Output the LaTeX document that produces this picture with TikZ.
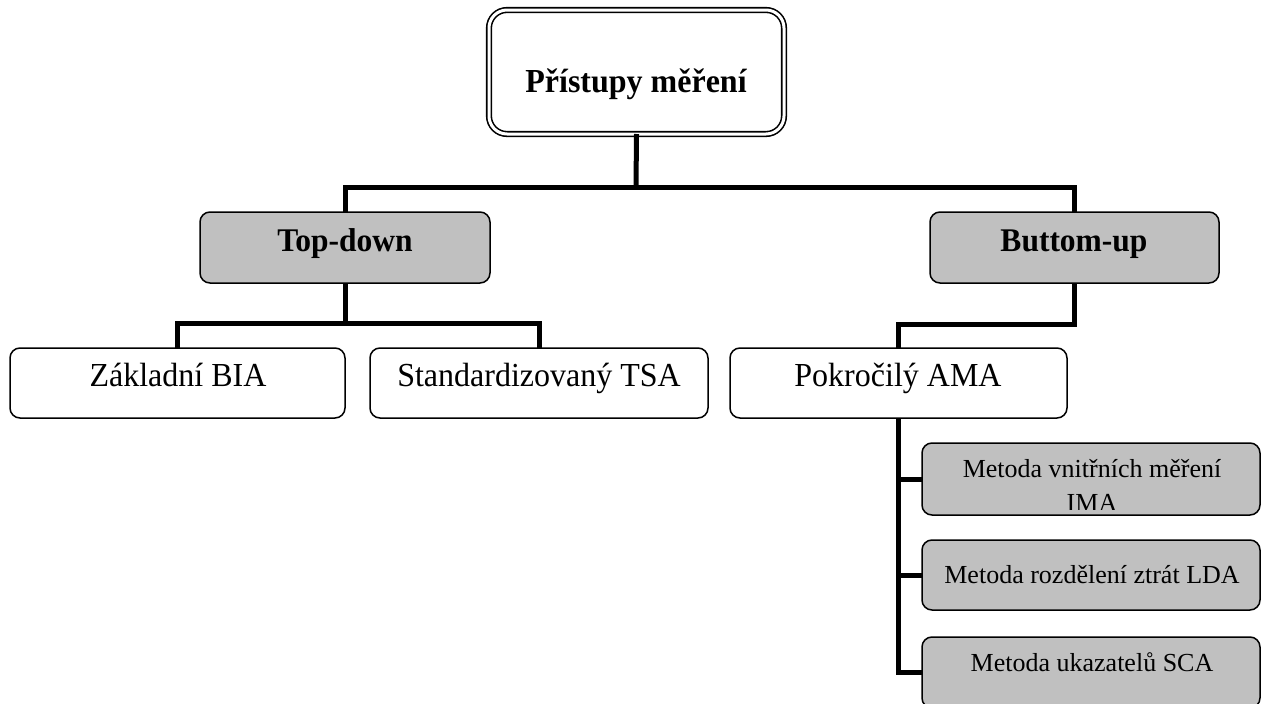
\documentclass[tikz,border=0pt]{standalone}
\usepackage{fontspec}
\setmainfont{Liberation Serif}
\definecolor{boxgray}{HTML}{C0C0C0}
\newcommand{\talltext}[1]{\scalebox{1}[1.05]{#1}}
\begin{document}
\begin{tikzpicture}[x=1pt,y=-1pt,
  box/.style={draw=black, line width=1.5pt, rounded corners=10pt, inner sep=0pt, outer sep=0pt, fill=white},
  gbox/.style={box, fill=boxgray},
  conn/.style={line width=5pt, line join=miter, draw=black},
  big/.style={anchor=base, inner sep=0pt, font=\fontsize{32}{38}\selectfont},
  bigb/.style={anchor=base, inner sep=0pt, font=\fontsize{31.5}{38}\selectfont\bfseries},
  small/.style={anchor=base, inner sep=0pt, font=\fontsize{26}{34}\selectfont}]
\useasboundingbox (0,0) rectangle (1262,704);

% boxes
\node[draw=black, line width=1.6pt, double=white, double distance=3pt, rounded corners=18pt,
      inner sep=0pt, outer sep=0pt, minimum width=295pt, minimum height=124pt] (root) at (636.5,72) {};
\node[gbox, minimum width=290pt, minimum height=71pt] (td) at (345,247.5) {};
\node[gbox, minimum width=289pt, minimum height=71pt] (bu) at (1074.5,247.5) {};
\node[box, minimum width=335pt, minimum height=70pt] (zak) at (177.5,383) {};
\node[box, minimum width=338pt, minimum height=70pt] (std) at (539,383) {};
\node[box, minimum width=337pt, minimum height=70pt] (pok) at (898.5,383) {};
\node[gbox, minimum width=338pt, minimum height=72pt] (g1) at (1091,479) {};
\node[gbox, minimum width=338pt, minimum height=70pt] (g2) at (1091,575) {};
\node[gbox, minimum width=338pt, minimum height=71pt] (g3) at (1091,672.5) {};

% texts
\node[anchor=base, inner sep=0pt, font=\fontsize{32}{38}\selectfont\bfseries] (troot) at (636,92) {\talltext{Přístupy měření}};
\node[bigb] (ttd) at (345,251.5) {\talltext{Top-down}};
\node[bigb] (tbu) at (1074,251.5) {\talltext{Buttom-up}};
\node[big] (tzak) at (178,386) {\talltext{Základní BIA}};
\node[big] (tstd) at (539,386) {\talltext{Standardizovaný TSA}};
\node[big] (tpok) at (898,386) {\talltext{Pokročilý AMA}};
\begin{scope}
  \clip (923,445) rectangle (1259,509);
  \node[small] (tg1a) at (1092,477) {Metoda vnitřních měření};
  \node[small] (tg1b) at (1092,511) {IMA};
\end{scope}
\node[small] (tg2) at (1092,583) {Metoda rozdělení ztrát LDA};
\node[small] (tg3) at (1092,671.5) {Metoda ukazatelů SCA};

% connectors
\coordinate (j1) at (636,187);
\draw[conn] (root.south) -- (j1);
\draw[conn] (j1) -| (td.north);
\draw[conn] (j1) -| (bu.north);
\coordinate (j2) at (345,323);
\draw[conn] (td.south) -- (j2);
\draw[conn] (j2) -| (zak.north);
\draw[conn] (j2) -| (std.north);
\draw[conn] (bu.south) -- ++(0,41) -| (pok.north);
\draw[conn] (pok.south) |- (g3.west);
\draw[conn] (pok.south |- g1.west) -- (g1.west);
\draw[conn] (pok.south |- g2.west) -- (g2.west);
\end{tikzpicture}
\end{document}
